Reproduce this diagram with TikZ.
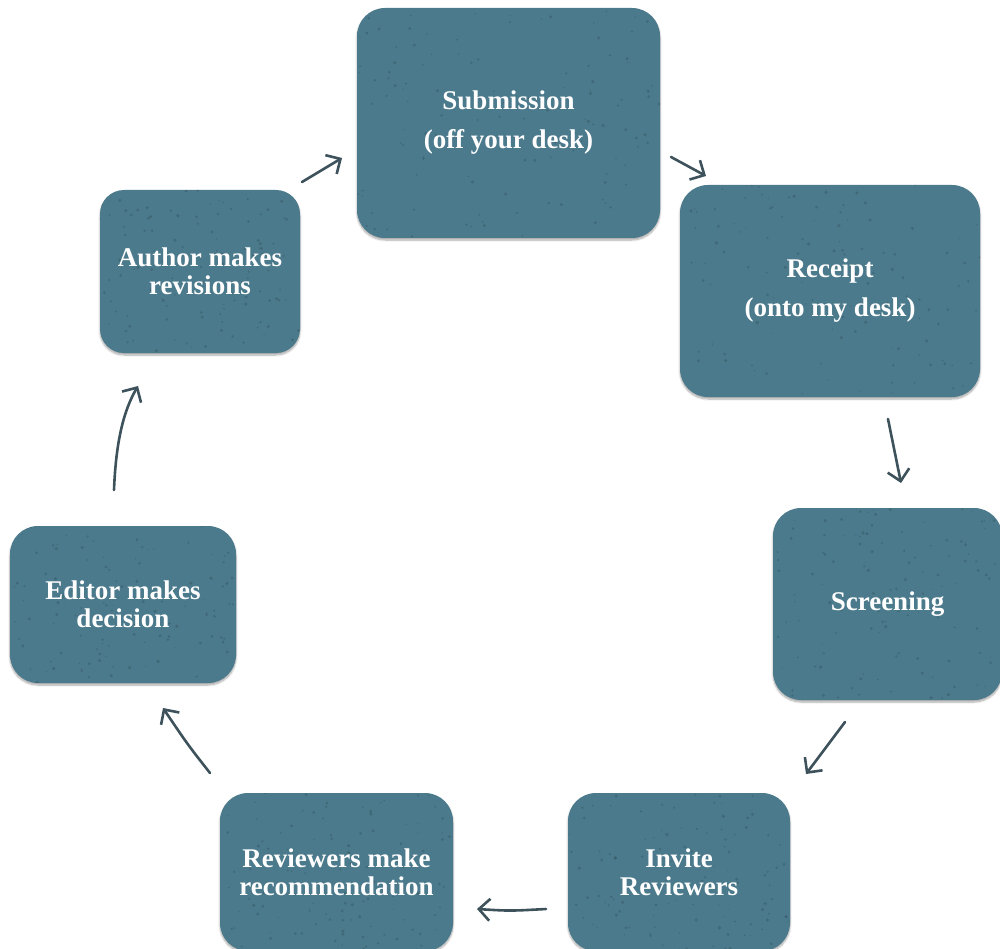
\documentclass[tikz,border=0pt]{standalone}
\usepackage{fontspec}
\setmainfont{Liberation Serif}
\usetikzlibrary{arrows.meta,shadows.blur}
\definecolor{boxblue}{HTML}{4B7A8C}
\definecolor{speck}{HTML}{2E4A55}
\definecolor{arrowc}{HTML}{3E525C}
\tikzset{
  stage/.style n args={2}{draw=none, fill=boxblue, rounded corners=28pt, align=center,
    text=white, font=\fontsize{27}{28}\selectfont\bfseries, inner sep=0pt,
    minimum width=#1pt, minimum height=#2pt,
    blur shadow={shadow xshift=0pt, shadow yshift=-2pt, shadow blur steps=8, shadow opacity=35},
    path picture={
      \foreach \k in {1,...,120}{
        \fill[speck, opacity=0.35] (path picture bounding box.south west)
          ++({rnd*#1},{-rnd*#2}) circle ({0.6+rnd*1.2});
      }
    }},
  tall/.style={font=\fontsize{27}{39}\selectfont\bfseries},
  flow/.style={draw=arrowc, line width=2.6pt, line cap=round,
    -{Straight Barb[length=11pt,width=22pt,line width=2.6pt]}}
}
\begin{document}
\begin{tikzpicture}[x=1pt,y=-1pt]
\useasboundingbox (0,0) rectangle (1000,949);
\pgfmathsetseed{7}
\node[stage={303}{230}, tall] (sub) at (508.5,123) {Submission\\(off your desk)};
\node[stage={200}{163}, rounded corners=24pt] (auth) at (200,271.5) {Author makes\\revisions};
\node[stage={300}{212}, tall] (rec) at (830,291) {Receipt\\(onto my desk)};
\node[stage={229}{192}] (scr) at (887.5,604) {Screening};
\node[stage={226}{157}] (ed) at (123,604.5) {Editor makes\\decision};
\node[stage={222}{158}] (inv) at (679,872) {Invite\\Reviewers};
\node[stage={233}{158}] (revw) at (336.5,872) {Reviewers make\\recommendation};

\coordinate (a1s) at (302,182); \coordinate (a1e) at (342,158);
\coordinate (a2s) at (671,157); \coordinate (a2e) at (706,176);
\coordinate (a3s) at (888,419); \coordinate (a3e) at (901,483);
\coordinate (a4s) at (845,722); \coordinate (a4e) at (806,774);
\coordinate (a5s) at (546,909); \coordinate (a5e) at (477,909);
\coordinate (a6s) at (210,773); \coordinate (a6e) at (163,708);
\coordinate (a7s) at (114,490); \coordinate (a7e) at (138,386);
\draw[flow] (a1s) -- (a1e);
\draw[flow] (a2s) -- (a2e);
\draw[flow] (a3s) -- (a3e);
\draw[flow] (a4s) .. controls (830,742) .. (a4e);
\draw[flow] (a5s) .. controls (510,911) .. (a5e);
\draw[flow] (a6s) .. controls (188,745) .. (a6e);
\draw[flow] (a7s) .. controls (116,440) and (124,410) .. (a7e);
\end{tikzpicture}
\end{document}
